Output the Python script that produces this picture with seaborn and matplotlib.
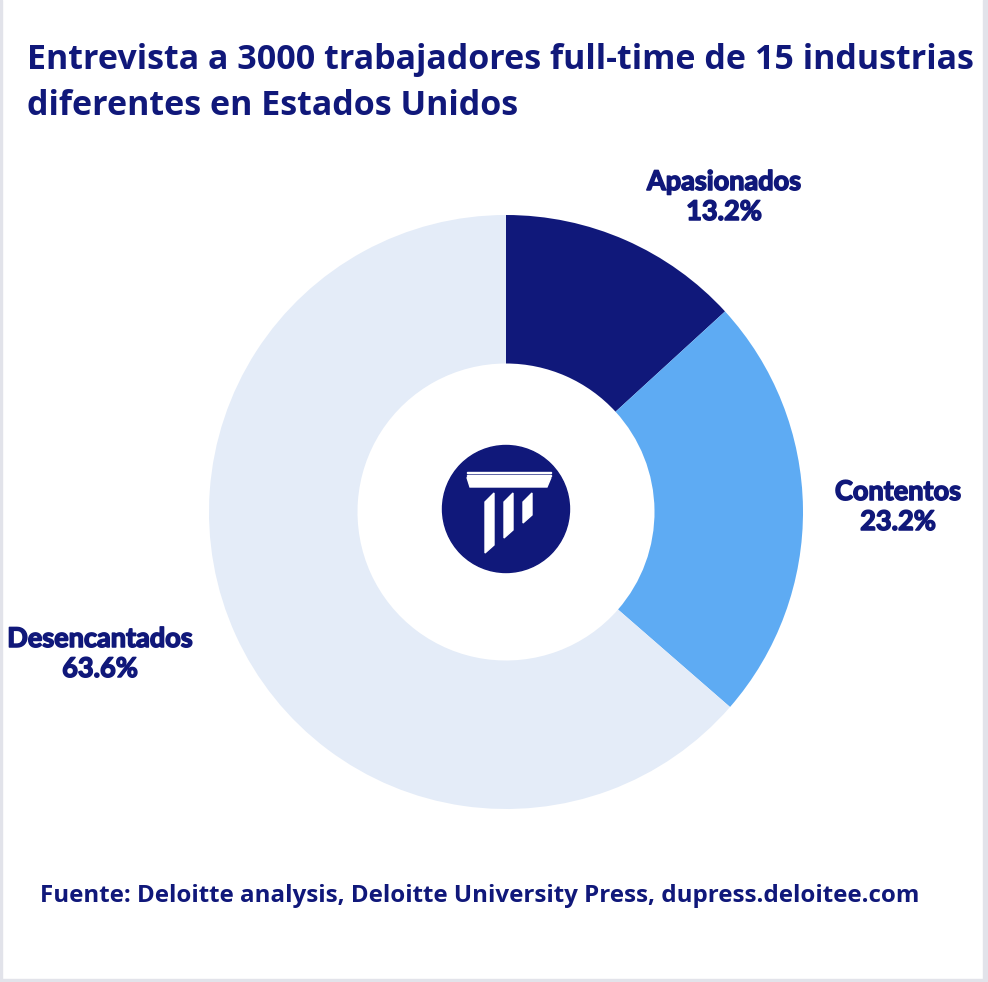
import matplotlib.pyplot as plt
import matplotlib.patches as mpatches
import matplotlib.patheffects as pe
import seaborn as sns

# datos
categorias = ['Apasionados', 'Contentos', 'Desencantados']
porcentajes = [13.2, 23.2, 63.6]
colores = ['#10187a', '#5eabf3', '#e4ecf8']

titulo = ('Entrevista a 3000 trabajadores full-time de 15 industrias\n'
          'diferentes en Estados Unidos')
fuente = 'Fuente: Deloitte analysis, Deloitte University Press, dupress.deloitee.com'

AZUL = '#10187a'


def px(x, y):
    # pixeles de la imagen -> coordenadas del pie (centro 506,512 radio 297)
    return ((x - 506) / 297, (512 - y) / 297)


def logo(ax):
    ax.add_patch(mpatches.Circle(px(506, 509), 63.5 / 297, color=AZUL, zorder=5))
    # capitel
    ax.add_patch(mpatches.Polygon([px(467, 477.5), px(551, 477.5), px(547, 487), px(470, 487)],
                                  color='white', zorder=6))
    for yy in (472.3, 475.3):
        ax.add_patch(mpatches.Polygon([px(467, yy - 0.7), px(551, yy - 0.7),
                                       px(551, yy + 0.7), px(467, yy + 0.7)],
                                      color='white', zorder=6))
    # columnas
    for x0, bot in ((485, 553), (504, 538), (523, 523)):
        ax.add_patch(mpatches.Polygon([px(x0, 502), px(x0 + 9, 493),
                                       px(x0 + 9, bot - 8), px(x0, bot)],
                                      color='white', zorder=6))


def main():
    sns.set_theme(style='white')
    plt.rcParams['font.family'] = ['Open Sans', 'DejaVu Sans']

    fig = plt.figure(figsize=(9.88, 9.82), dpi=100)
    fig.patch.set_facecolor('white')
    ax = fig.add_axes([209 / 988, 173 / 982, 594 / 988, 594 / 982])

    pal = sns.color_palette(colores)
    ax.pie(porcentajes, colors=pal, startangle=90, counterclock=False,
           radius=1, wedgeprops=dict(width=0.5, linewidth=0))
    ax.set_xlim(-1, 1)
    ax.set_ylim(-1, 1)
    ax.set_aspect('equal')
    ax.axis('off')

    logo(ax)

    # etiquetas (trazo extra para que se vean mas gruesas)
    pos_etiquetas = [px(724, 197), px(898, 507), px(100, 654)]
    for cat, val, (x, y) in zip(categorias, porcentajes, pos_etiquetas):
        ax.text(x, y, f'{cat}\n{val:.1f}%', ha='center', va='center',
                fontsize=19.5, fontweight='bold', family=['Lato', 'DejaVu Sans'],
                color=AZUL, linespacing=1.3,
                path_effects=[pe.withStroke(linewidth=1.1, foreground=AZUL)])

    fig.text(27 / 988, 1 - 43 / 982, titulo, ha='left', va='top', fontsize=24.5,
             fontweight='bold', color=AZUL, linespacing=1.45)
    fig.text(40 / 988, 1 - 896 / 982, fuente, ha='left', va='center', fontsize=17.4,
             fontweight='bold', color=AZUL)

    # borde gris
    gris = '#e2e3ea'
    fig.patches.append(mpatches.Rectangle((983 / 988, 0), 5 / 988, 1, color=gris,
                                          transform=fig.transFigure, figure=fig))
    fig.patches.append(mpatches.Rectangle((0, 0), 1, 3.5 / 982, color=gris,
                                          transform=fig.transFigure, figure=fig))
    fig.patches.append(mpatches.Rectangle((0, 0), 1.5 / 988, 1, color=gris,
                                          transform=fig.transFigure, figure=fig))

    fig.savefig('out.png', dpi=100, facecolor='white')


if __name__ == "__main__":
    main()
